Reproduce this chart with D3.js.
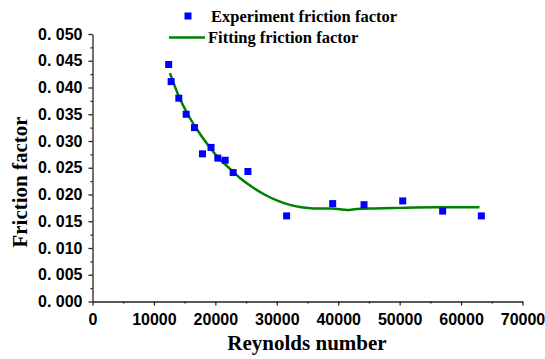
<!DOCTYPE html>
<html>
<head>
<meta charset="utf-8">
<script src="https://cdn.jsdelivr.net/npm/d3@7"></script>
<style>
  body { margin: 0; background: #fff; }
  svg { display: block; }
</style>
</head>
<body>
<div id="chart"></div>
<script>
// experiment points (Reynolds number, friction factor)
var expRe = [12400, 12800, 14050, 15250, 16600, 17900, 19300, 20400, 21600, 22900, 25300,
             31600, 39100, 44200, 50500, 57000, 63300];
var expF = [0.0443, 0.0411, 0.0380, 0.0350, 0.0325, 0.0276, 0.0288, 0.0268, 0.0264, 0.0241, 0.0243,
            0.0160, 0.0183, 0.0181, 0.0188, 0.0169, 0.0160];

// fitted curve
var fitRe = [12600, 14000, 15500, 17000, 18500, 20000, 22000, 24000, 26000, 28000, 30000,
             32000, 34000, 36000, 39000, 41500, 43000, 46000, 50000, 56000, 63000];
var fitF = [0.0427, 0.0385, 0.0350, 0.0322, 0.0297, 0.0275, 0.0252, 0.0231, 0.0214, 0.0200, 0.0189,
            0.0181, 0.0176, 0.0174, 0.0174, 0.0171, 0.0173, 0.0174, 0.0175, 0.0176, 0.0176];

var xTicks = [0, 10000, 20000, 30000, 40000, 50000, 60000, 70000];
var yTicks = [0, 0.005, 0.010, 0.015, 0.020, 0.025, 0.030, 0.035, 0.040, 0.045, 0.050];

var W = 545, H = 359;
var pLeft = 92.5, pRight = 522.5, pTop = 34, pBottom = 301.5;

var svg = d3.select("#chart").append("svg")
    .attr("width", W)
    .attr("height", H);

var x = d3.scaleLinear().domain([0, 70000]).range([pLeft, pRight]);
var y = d3.scaleLinear().domain([0, 0.05]).range([pBottom, pTop]);

var axisColor = "#222";

// x axis
svg.append("g")
    .attr("transform", "translate(0," + pBottom + ")")
    .call(d3.axisBottom(x).tickValues(xTicks).tickSize(4).tickSizeOuter(0).tickPadding(8)
        .tickFormat(d3.format("d")));

// minor x ticks
svg.append("g")
    .attr("transform", "translate(0," + pBottom + ")")
    .call(d3.axisBottom(x).tickValues(d3.range(5000, 70000, 10000)).tickSize(2)
        .tickSizeOuter(0).tickFormat(""))
    .select(".domain").remove();

// y axis
svg.append("g")
    .attr("transform", "translate(" + pLeft + ",0)")
    .call(d3.axisLeft(y).tickValues(yTicks).tickSize(4).tickSizeOuter(0).tickPadding(6)
        .tickFormat(function(d) { return d3.format(".3f")(d).replace(".", ". "); }));

svg.append("g")
    .attr("transform", "translate(" + pLeft + ",0)")
    .call(d3.axisLeft(y).tickValues(d3.range(0.0025, 0.05, 0.005)).tickSize(2)
        .tickSizeOuter(0).tickFormat(""))
    .select(".domain").remove();

svg.selectAll(".domain, .tick line")
    .attr("stroke", axisColor)
    .attr("stroke-width", 1.3);

svg.selectAll(".tick text")
    .attr("fill", "#000")
    .style("font-family", "'Liberation Sans', Arial, sans-serif")
    .style("font-weight", "bold")
    .style("font-size", "16px");

// fitted line
var line = d3.line()
    .x(function(d, i) { return x(fitRe[i]); })
    .y(function(d, i) { return y(fitF[i]); })
    .curve(d3.curveMonotoneX);

svg.append("path")
    .datum(fitF)
    .attr("d", line)
    .attr("fill", "none")
    .attr("stroke", "#008000")
    .attr("stroke-width", 2.5);

// experiment points
var ms = 7;
svg.selectAll("rect.pt")
    .data(expF)
    .enter().append("rect")
    .attr("class", "pt")
    .attr("x", function(d, i) { return x(expRe[i]) - ms / 2; })
    .attr("y", function(d) { return y(d) - ms / 2; })
    .attr("width", ms)
    .attr("height", ms)
    .attr("fill", "#0000ff");

// axis titles
svg.append("text")
    .attr("x", 307)
    .attr("y", 350)
    .attr("text-anchor", "middle")
    .style("font-family", "'Liberation Serif', 'Times New Roman', serif")
    .style("font-weight", "bold")
    .style("font-size", "21px")
    .text("Reynolds number");

svg.append("text")
    .attr("transform", "translate(27,182) rotate(-90)")
    .attr("text-anchor", "middle")
    .style("font-family", "'Liberation Serif', 'Times New Roman', serif")
    .style("font-weight", "bold")
    .style("font-size", "21px")
    .text("Friction factor");

// legend
var legend = svg.append("g");
legend.append("rect")
    .attr("x", 188 - ms / 2)
    .attr("y", 16 - ms / 2)
    .attr("width", ms)
    .attr("height", ms)
    .attr("fill", "#0000ff");
legend.append("line")
    .attr("x1", 169).attr("x2", 205)
    .attr("y1", 37.5).attr("y2", 37.5)
    .attr("stroke", "#008000")
    .attr("stroke-width", 2.5);
legend.selectAll("text")
    .data([["Experiment friction factor", 211, 22], ["Fitting friction factor", 208, 43]])
    .enter().append("text")
    .attr("x", function(d) { return d[1]; })
    .attr("y", function(d) { return d[2]; })
    .style("font-family", "'Liberation Serif', 'Times New Roman', serif")
    .style("font-weight", "bold")
    .style("font-size", "16.5px")
    .attr("fill", "#000")
    .text(function(d) { return d[0]; });
</script>
</body>
</html>
